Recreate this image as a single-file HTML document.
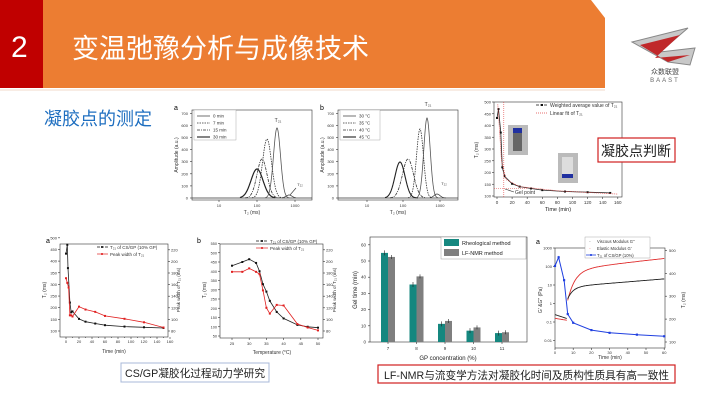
<!DOCTYPE html>
<html><head><meta charset="utf-8">
<style>
html,body{margin:0;padding:0;background:#fff;}
body{width:720px;height:405px;overflow:hidden;position:relative;font-family:"Liberation Sans","Noto Sans CJK SC",sans-serif;}
svg text{font-family:"Liberation Sans","Noto Sans CJK SC",sans-serif;}
</style></head><body>
<svg id="s" width="720" height="405" viewBox="0 0 720 405" xmlns="http://www.w3.org/2000/svg">
<polygon points="43,0 591,0 605,18 605,88 43,88" fill="#ec7d32"/>
<rect x="0" y="0" width="43" height="88" fill="#c00000"/>
<line x1="0" y1="90" x2="605" y2="90" stroke="#f0d8c8" stroke-width="1"/>
<text x="11" y="57" font-size="30" fill="#fff">2</text>
<text x="72" y="58" font-size="27" fill="#fff" font-family="Noto Sans CJK SC, sans-serif">变温弛豫分析与成像技术</text>
<g>
<path d="M632,42 L688,28 L660,52 L695,48 L690,65 L668,62 Z" fill="#c8c8c8" stroke="#888" stroke-width="1"/>
<path d="M640,45 L680,35 L655,58 L690,55 L668,62 Z" fill="#c0282a"/>
<text x="665" y="74" font-size="7" fill="#444" text-anchor="middle">众数联盟</text>
<text x="665" y="82" font-size="6" fill="#666" text-anchor="middle" letter-spacing="2">BAAST</text>
</g>
<text x="44" y="125" font-size="18" fill="#1f6fc0" font-family="Noto Sans CJK SC, sans-serif">凝胶点的测定</text>

<g id="g" font-size="5" fill="#333"></g>

<rect x="598" y="138" width="77" height="24" fill="#fff" stroke="#d02020" stroke-width="1.2"/>
<text x="636" y="156" font-size="14" text-anchor="middle" font-family="Liberation Serif, Noto Serif CJK SC, serif" fill="#222">凝胶点判断</text>
<rect x="121" y="363" width="148" height="19" fill="#fff" stroke="#a8b8d8" stroke-width="1"/>
<text x="125" y="377" font-size="11" textLength="140" lengthAdjust="spacingAndGlyphs" font-family="Liberation Serif, Noto Serif CJK SC, serif" fill="#222">CS/GP凝胶化过程动力学研究</text>
<rect x="378" y="365" width="297" height="18" fill="#fff" stroke="#d02020" stroke-width="1.2"/>
<text x="384" y="379" font-size="11" textLength="285" lengthAdjust="spacingAndGlyphs" font-family="Liberation Serif, Noto Serif CJK SC, serif" fill="#222">LF-NMR与流变学方法对凝胶化时间及质构性质具有高一致性</text>
</svg>
<script>
var g=document.getElementById('g');var NS='http://www.w3.org/2000/svg';
function el(t,a,txt){var e=document.createElementNS(NS,t);for(var k in a)e.setAttribute(k,a[k]);if(txt!==undefined)e.textContent=txt;g.appendChild(e);return e;}
function line(x1,y1,x2,y2,c,w,d){el('line',{x1:x1,y1:y1,x2:x2,y2:y2,stroke:c||'#333','stroke-width':w||0.6,'stroke-dasharray':d||''});}
function txt(x,y,s,o){o=o||{};var a={x:x,y:y,'font-size':o.fs||5,fill:o.c||'#333','text-anchor':o.a||'middle'};if(o.r)a.transform='rotate(-90 '+x+' '+y+')';el('text',a,s);}
function path(pts,c,w,d){var s='M'+pts.map(function(p){return p[0].toFixed(1)+','+p[1].toFixed(1)}).join(' L');el('path',{d:s,fill:'none',stroke:c,'stroke-width':w||0.8,'stroke-dasharray':d||''});}
function box(x1,y1,x2,y2){el('rect',{x:x1,y:y1,width:x2-x1,height:y2-y1,fill:'none',stroke:'#333','stroke-width':0.6});}
function gauss(x0,y0,base,px,h,sig,xa,xb){var p=[];for(var x=xa;x<=xb;x+=0.5){p.push([x,base-h*Math.exp(-Math.pow((x-px)/sig,2)/2)]);}return p;}
function dots(pts,c,r){pts.forEach(function(p){el('rect',{x:p[0]-(r||1),y:p[1]-(r||1),width:2*(r||1),height:2*(r||1),fill:c});});}

(function(){var L=192,R=312,T=110,B=200,b0=198;box(L,T,R,B);
for(var i=0;i<=7;i++){var y=b0-i*12.1;line(L,y,L-2,y);txt(L-4,y+1.5,String(i*100),{a:'end',fs:4});}
[[219,'10'],[257,'100'],[295,'1000']].forEach(function(t){line(t[0],B,t[0],B+2);txt(t[0],B+7,t[1],{fs:4});});
txt(L-14,155,'Amplitude (a.u.)',{r:1,fs:5});txt(252,214,'T\u2082 (ms)',{fs:5});txt(176,110,'a',{fs:7,c:'#000'});
path([[L,b0],[R,b0]],'#333',0.8);
path(gauss(0,0,b0,257,29,6,240,275),'#222',1.2);
path(gauss(0,0,b0,262,39,5,245,280),'#333',0.8,'3,1,1,1');
path(gauss(0,0,b0,267,59,4.5,252,285),'#333',0.8,'1.5,1');
path(gauss(0,0,b0,277,70,3.5,265,290),'#555',0.8);
path(gauss(0,0,b0,289,3,3,282,296),'#333',0.7);
txt(278,122,'T\u2082\u2081',{fs:5});txt(300,186,'T\u2082\u2082',{fs:4});line(290,195,296,188);
el('rect',{x:194,y:110,width:42,height:30,fill:'#fff',stroke:'#999','stroke-width':0.4});
['0 min','7 min','15 min','30 min'].forEach(function(s,i){var y=116+i*7;line(197,y,210,y,'#333',i==3?1.2:0.7,['','1.5,1','3,1,1,1',''][i]);txt(213,y+1.5,s,{a:'start',fs:4.5});});
})();
(function(){var L=338,R=458,T=110,B=200,b0=198;box(L,T,R,B);
for(var i=0;i<=7;i++){var y=b0-i*12.1;line(L,y,L-2,y);txt(L-4,y+1.5,String(i*100),{a:'end',fs:4});}
[[367,'10'],[403,'100'],[440,'1000']].forEach(function(t){line(t[0],B,t[0],B+2);txt(t[0],B+7,t[1],{fs:4});});
txt(L-14,155,'Amplitude (a.u.)',{r:1,fs:5});txt(398,214,'T\u2082 (ms)',{fs:5});txt(322,110,'b',{fs:7,c:'#000'});
path([[L,b0],[R,b0]],'#333',0.8);
path(gauss(0,0,b0,400,36,5,385,418),'#222',1.1);
path(gauss(0,0,b0,408,39,5.5,390,425),'#333',0.8,'3,1,1,1');
path(gauss(0,0,b0,420,69,3.5,408,432),'#333',0.8,'1.5,1');
path(gauss(0,0,b0,427,80,3.2,416,438),'#555',0.8);
path(gauss(0,0,b0,437,4,3,430,446),'#333',0.7);
txt(428,106,'T\u2082\u2081',{fs:5});txt(444,185,'T\u2082\u2082',{fs:4});
el('rect',{x:340,y:110,width:40,height:30,fill:'#fff',stroke:'#999','stroke-width':0.4});
['30 \u00b0C','35 \u00b0C','40 \u00b0C','45 \u00b0C'].forEach(function(s,i){var y=116+i*7;line(343,y,356,y,'#333',i==3?1.2:0.7,['','1.5,1','3,1,1,1',''][i]);txt(359,y+1.5,s,{a:'start',fs:4.5});});
})();
(function(){var L=494,R=622,T=102,B=197;box(L,T,R,B);
function X(t){return 497+t*0.755;}function Y(v){return 196-(v-100)*0.235;}
for(var v=100;v<=500;v+=50){line(L,Y(v),L-2,Y(v));txt(L-3,Y(v)+1.5,String(v),{a:'end',fs:4});}
for(var t=0;t<=160;t+=20){line(X(t),B,X(t),B+2);txt(X(t),B+7,String(t),{fs:4.5});}
txt(L-16,150,'T\u2082 (ms)',{r:1,fs:5});txt(558,211,'Time (min)',{fs:5.5,c:'#222'});
var d=[[0,432],[2,470],[5,370],[7,222],[10,184],[20,152],[30,140],[45,132],[60,125],[90,119],[120,116],[150,113]];
var p=d.map(function(a){return[X(a[0]),Y(a[1])]});
path(p,'#222',0.8);dots(p,'#111',1);
path([[X(1),Y(490)],[X(6),Y(250)],[X(12),Y(170)],[X(30),Y(140)],[X(80),Y(122)],[X(160),Y(108)]],'#e04040',0.7,'1,1');
line(X(9),T,X(9),B,'#e04040',0.6,'1,1');line(L,Y(133),X(40),Y(133),'#e04040',0.6,'1,1');
txt(515,194,'Gel point',{a:'start',fs:5});line(505,189,514,192);
el('rect',{x:508,y:125,width:20,height:30,fill:'#bbb'});el('rect',{x:513,y:128,width:9,height:5,fill:'#2030a0'});el('rect',{x:513,y:133,width:9,height:18,fill:'#666'});
el('rect',{x:558,y:153,width:20,height:30,fill:'#bbb'});el('rect',{x:562,y:157,width:11,height:17,fill:'#ddd'});el('rect',{x:562,y:174,width:11,height:4,fill:'#2030a0'});
line(536,105,548,105,'#111',0.7,'3,1');dots([[542,105]],'#111',1);txt(550,107,'Weighted average value of T\u2082\u2081',{a:'start',fs:5});
line(536,113,548,113,'#e04040',0.7,'1,1');txt(550,115,'Linear fit of T\u2082\u2081',{a:'start',fs:5});
})();
(function(){var L=60,R=168,T=244,B=337;box(L,T,R,B);
function X(t){return 66+t*0.65;}function Y(v){return 331-(v-100)*0.233;}function Y2(v){return 331-(v-80)*0.58;}
for(var v=100;v<=500;v+=50){line(L,Y(v),L-2,Y(v));txt(L-3,Y(v)+1.5,String(v),{a:'end',fs:4});}
for(var v=80;v<=220;v+=20){line(R,Y2(v),R+2,Y2(v));txt(R+3,Y2(v)+1.5,String(v),{a:'start',fs:4});}
for(var t=0;t<=160;t+=20){line(X(t),B,X(t),B+2);txt(X(t),B+6,String(t),{fs:4});}
for(var t=10;t<=150;t+=20){line(X(t),B,X(t),B+1);}
txt(L-14,290,'T\u2082 (ms)',{r:1,fs:5});txt(114,353,'Time (min)',{fs:5});txt(48,243,'a',{fs:7,c:'#000'});
var a=[[0,432],[2,470],[3,370],[6,222],[8,180],[10,184],[20,152],[30,140],[45,132],[60,125],[90,119],[120,116],[150,113]];
var p=a.map(function(d){return[X(d[0]),Y(d[1])]});path(p,'#222',0.8);dots(p,'#111',1);
var r=[[0,171],[2,163],[4,155],[6,107],[8,107],[10,105],[20,122],[30,117],[45,113],[60,106],[90,101],[120,95],[150,86]];
var q=r.map(function(d){return[X(d[0]),Y2(d[1])]});path(q,'#e02020',0.8);dots(q,'#e02020',1);
line(97,247,108,247,'#111',0.7,'3,1');dots([[102,247]],'#111',0.9);txt(110,249,'T\u2082\u2081 of CS/GP (10% GP)',{a:'start',fs:4.5});
line(97,254,108,254,'#e02020',0.7);dots([[102,254]],'#e02020',0.9);txt(110,256,'Peak width of T\u2082\u2081',{a:'start',fs:4.5});
txt(180,290,'Peak width of T\u2082\u2081 (ms)',{r:1,fs:4.5,c:'#333'});
})();
(function(){var L=220,R=323,T=244,B=338;box(L,T,R,B);
function X(t){return 232+(t-25)*3.44;}function Y(v){return 336-(v-50)*0.185;}function Y2(v){return 331-(v-80)*0.58;}
for(var v=50;v<=550;v+=50){line(L,Y(v),L-2,Y(v));txt(L-3,Y(v)+1.5,String(v),{a:'end',fs:3.8});}
for(var v=80;v<=220;v+=20){line(R,Y2(v),R+2,Y2(v));txt(R+3,Y2(v)+1.5,String(v),{a:'start',fs:4});}
for(var t=25;t<=50;t+=5){line(X(t),B,X(t),B+2);txt(X(t),B+7,String(t),{fs:4});}
txt(L-14,290,'T\u2082 (ms)',{r:1,fs:5});txt(272,354,'Temperature (\u00b0C)',{fs:5});txt(199,243,'b',{fs:7,c:'#000'});
var a=[[25,430],[28,450],[30,465],[32,445],[33,400],[34,330],[35,290],[36,240],[38,180],[40,145],[44,110],[47,100],[50,95]];
var p=a.map(function(d){return[X(d[0]),Y(d[1])]});path(p,'#222',0.8);dots(p,'#111',1);
var r=[[25,182],[28,182],[30,188],[32,182],[33,178],[34,150],[35,120],[36,110],[38,125],[40,124],[44,92],[47,86],[50,81]];
var q=r.map(function(d){return[X(d[0]),Y2(d[1])]});path(q,'#e02020',0.8);dots(q,'#e02020',1);
line(256,241,268,241,'#111',0.7,'3,1');dots([[262,241]],'#111',0.9);txt(270,243,'T\u2082\u2081 of CS/GP (10% GP)',{a:'start',fs:4.5});
line(256,248,268,248,'#e02020',0.7);dots([[262,248]],'#e02020',0.9);txt(270,250,'Peak width of T\u2082\u2081',{a:'start',fs:4.5});
txt(336,290,'Peak width of T\u2082\u2081 (ms)',{r:1,fs:4.5});
})();
(function(){var L=370,R=527,T=237,B=342;box(L,T,R,B);
function Y(v){return 342-v*1.62;}
for(var v=0;v<=60;v+=10){line(L,Y(v),L-2,Y(v));txt(L-4,Y(v)+1.5,String(v),{a:'end',fs:4.5});}
txt(357,290,'Gel time (min)',{r:1,fs:6,c:'#222'});txt(448,360,'GP concentration (%)',{fs:6,c:'#222'});
var d=[[7,55,52.5],[8,35.5,40.5],[9,11.2,13],[10,7,9],[11,5.5,6]];
d.forEach(function(b,i){var cx=388+i*28.5;txt(cx,350,String(b[0]),{fs:4.5});line(cx,B,cx,B+2);
el('rect',{x:cx-7,y:Y(b[1]),width:7,height:B-Y(b[1]),fill:'#15877f'});
el('rect',{x:cx,y:Y(b[2]),width:7,height:B-Y(b[2]),fill:'#7f7f7f'});
line(cx-3.5,Y(b[1])-2.5,cx-3.5,Y(b[1])+2.5,'#222',0.6);line(cx+3.5,Y(b[2])-2,cx+3.5,Y(b[2])+2,'#222',0.6);});
el('rect',{x:441,y:237,width:85,height:22,fill:'#fff',stroke:'#999','stroke-width':0.5});
el('rect',{x:444,y:239,width:15,height:7,fill:'#15877f'});txt(462,245,'Rheological method',{a:'start',fs:5.5,c:'#222'});
el('rect',{x:444,y:249,width:15,height:7,fill:'#7f7f7f'});txt(462,255,'LF-NMR method',{a:'start',fs:5.5,c:'#222'});
})();
(function(){var L=555,R=665,T=248,B=348;box(L,T,R,B);
function X(t){return 555+t*1.82;}function Y(v){return 248+(3-v)*18.5;}function Y2(v){return 342-(v-100)*0.229;}
[[3,'1000'],[2,'100'],[1,'10'],[0,'1'],[-1,'0.1'],[-2,'0.01']].forEach(function(t){line(L,Y(t[0]),L-2,Y(t[0]));txt(L-3,Y(t[0])+1.5,t[1],{a:'end',fs:4});});
for(var v=100;v<=500;v+=100){line(R,Y2(v),R+2,Y2(v));txt(R+4,Y2(v)+1.5,String(v),{a:'start',fs:4});}
for(var t=0;t<=60;t+=10){line(X(t),B,X(t),B+2);txt(X(t),B+6,String(t),{fs:4});}
txt(542,300,"G' &G'' (Pa)",{r:1,fs:5});txt(685,300,'T\u2082 (ms)',{r:1,fs:5});txt(610,359,'Time (min)',{fs:5});txt(538,244,'a',{fs:7,c:'#000'});
var red=[],blk=[];for(var t=0;t<=6.5;t+=0.5){red.push([X(t),Y(-0.8)+t*0.3]);blk.push([X(t),Y(-0.6)+t*0.6]);}
path(red,'#e03030',0.9);path(blk,'#222',0.9);
red=[];blk=[];for(var t=7;t<=60;t+=0.5){red.push([X(t),Y(1.85-1.6*Math.exp(-(t-7)/4)+0.01*t-0.15*Math.exp(-(t-7)/25))]);blk.push([X(t),Y(0.85-0.65*Math.exp(-(t-7)/3)+0.008*t)]);}
path(red,'#e03030',0.9);path(blk,'#222',0.9);
var d=[[0,432],[2,470],[5,370],[7,222],[10,184],[20,152],[30,140],[45,132],[60,125]];
var p=d.map(function(a){return[X(a[0]),Y2(a[1])]});path(p,'#2040e0',1);dots(p,'#2040e0',1.1);
el('rect',{x:585,y:237,width:65,height:21,fill:'#fff',stroke:'#999','stroke-width':0.4});
txt(590,243,'\u00b7',{fs:5});txt(597,243,"Viscous Modulus G''",{a:'start',fs:4.2});
txt(590,250,'\u00b7',{fs:5,c:'#e03030'});txt(597,250,"Elastic Modulus G'",{a:'start',fs:4.2});
line(586,255,596,255,'#2040e0',0.8);dots([[591,255]],'#2040e0',0.9);txt(597,257,'T\u2082\u2081 of CS/GP (10%)',{a:'start',fs:4.2});
})();
</script>
</body></html>
